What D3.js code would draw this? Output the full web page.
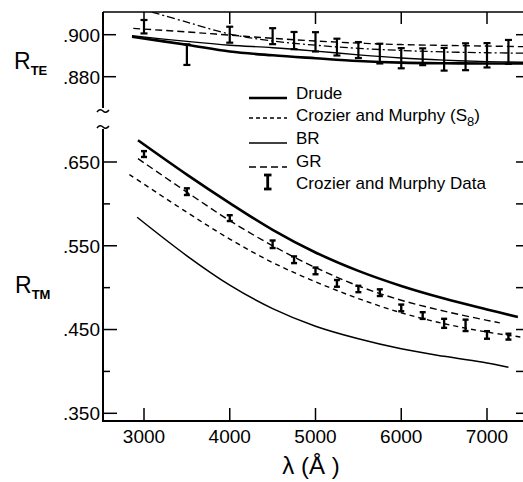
<!DOCTYPE html>
<html lang="en">
<head>
<meta charset="UTF-8">
<title>R_TE and R_TM vs wavelength</title>
<script src="https://d3js.org/d3.v7.min.js"></script>
<style>
  body { margin: 0; background: #fff; }
  svg { display: block; font-family: "Liberation Sans", Arial, sans-serif; }
  .axis { stroke: #000; fill: none; }
  .curve { fill: none; stroke: #000; }
  .bar { stroke: #000; fill: none; }
  text { fill: #000; }
</style>
</head>
<body>
<svg id="chart" width="523" height="482"></svg>
<script>
// tick values
const xTicks = [3000, 4000, 5000, 6000, 7000];
const teTicks = [0.880, 0.900];
const tmTicks = [0.350, 0.450, 0.550, 0.650];
const tmMinor = [0.400, 0.500, 0.600];

// Crozier and Murphy data: wavelength, reflectance, half error
const dataLambda = [3000, 3500, 4000, 4500, 4750, 5000, 5250, 5500, 5750, 6000, 6250, 6500, 6750, 7000, 7250];
const teData = [0.9038, 0.8905, 0.9000, 0.8993, 0.8972, 0.8966, 0.8941, 0.8927, 0.8910, 0.8888, 0.8895, 0.8883, 0.8895, 0.8902, 0.8918];
const teErr  = [0.0032, 0.0049, 0.0038, 0.0038, 0.0041, 0.0046, 0.0040, 0.0038, 0.0047, 0.0048, 0.0040, 0.0054, 0.0064, 0.0058, 0.0057];
const tmData = [0.6595, 0.6146, 0.5830, 0.5518, 0.5333, 0.5200, 0.5051, 0.4984, 0.4940, 0.4758, 0.4667, 0.4574, 0.4550, 0.4435, 0.4415];
const tmErr  = [0.0035, 0.0040, 0.0035, 0.0045, 0.0040, 0.0040, 0.0040, 0.0038, 0.0040, 0.0040, 0.0040, 0.0054, 0.0068, 0.0045, 0.0035];

// model curves [wavelength, R]
const drudeTE = [[2860,.8990],[3500,.8952],[4000,.8920],[4500,.8902],[5000,.8888],[5500,.8875],[6000,.8867],[6500,.8864],[7000,.8863],[7420,.8863]];
const brTE    = [[2860,.8995],[3500,.8968],[4000,.8950],[4500,.8938],[5000,.8922],[5500,.8904],[6000,.8889],[6500,.8879],[7000,.8872],[7420,.8869]];
const grTE    = [[2875,.9030],[3500,.9013],[4000,.8998],[4500,.8983],[5000,.8970],[5500,.8960],[6000,.8953],[6500,.8949],[7000,.8946],[7420,.8943]];
const s8TE    = [[3090,.9108],[3500,.9060],[4000,.9003],[4500,.8970],[5000,.8950],[5500,.8935],[6000,.8925],[6500,.8918],[7000,.8914],[7420,.8912]];

const drudeTM = [[2930,.676],[3500,.635],[4000,.601],[4500,.569],[5000,.542],[5500,.520],[6000,.502],[6500,.487],[7000,.474],[7360,.465]];
const grTM    = [[2930,.654],[3500,.614],[4000,.580],[4500,.550],[5000,.524],[5500,.502],[6000,.485],[6500,.472],[7000,.461],[7150,.458]];
const s8TM    = [[2830,.635],[3500,.590],[4000,.558],[4500,.530],[5000,.507],[5500,.487],[6000,.470],[6500,.457],[7000,.447],[7400,.441]];
const brTM    = [[2920,.584],[3500,.538],[4000,.503],[4500,.475],[5000,.454],[5500,.439],[6000,.427],[6500,.418],[7000,.410],[7250,.405]];

const legendItems = ["Drude", "Crozier and Murphy (S", "BR", "GR", "Crozier and Murphy Data"];

const svg = d3.select("#chart");
const plotLeft = 103, plotRight = 523, plotTop = 12, plotBottom = 421;
const breakTop = 108, breakBot = 129;

const x = d3.scaleLinear().domain([3000, 7000]).range([144, 487]);
const yTE = d3.scaleLinear().domain([0.880, 0.900]).range([76.7, 34.7]);
const yTM = d3.scaleLinear().domain([0.350, 0.650]).range([413.3, 162]);

svg.append("clipPath").attr("id", "clipTE")
   .append("rect").attr("x", plotLeft).attr("y", plotTop)
   .attr("width", plotRight - plotLeft).attr("height", breakTop - plotTop);

// frame
svg.append("line").attr("class", "axis").attr("stroke-width", 1.6)
   .attr("x1", plotLeft).attr("y1", plotTop).attr("x2", plotRight).attr("y2", plotTop);
svg.append("line").attr("class", "axis").attr("stroke-width", 2)
   .attr("x1", plotLeft).attr("y1", plotTop).attr("x2", plotLeft).attr("y2", breakTop);
svg.append("line").attr("class", "axis").attr("stroke-width", 2)
   .attr("x1", plotLeft).attr("y1", breakBot).attr("x2", plotLeft).attr("y2", plotBottom);
svg.append("line").attr("class", "axis").attr("stroke-width", 2)
   .attr("x1", plotLeft - 1).attr("y1", plotBottom).attr("x2", plotRight).attr("y2", plotBottom);

// break marks
[111, 127].forEach(yb => {
  svg.append("path").attr("class", "axis").attr("stroke-width", 1.5)
     .attr("d", `M${plotLeft - 6},${yb + 1} q3,-4 6,-1 t6,-1`);
});

// x ticks (bottom and top)
svg.selectAll(".xtick").data(xTicks).enter().append("line")
   .attr("class", "axis").attr("stroke-width", 1.5)
   .attr("x1", d => x(d)).attr("x2", d => x(d)).attr("y1", plotBottom).attr("y2", plotBottom - 13);
svg.selectAll(".xtickTop").data(xTicks).enter().append("line")
   .attr("class", "axis").attr("stroke-width", 1.5)
   .attr("x1", d => x(d)).attr("x2", d => x(d)).attr("y1", plotTop).attr("y2", plotTop + 12);
svg.selectAll(".xlab").data(xTicks).enter().append("text")
   .attr("x", d => x(d)).attr("y", 443).attr("text-anchor", "middle")
   .attr("font-size", 19).text(d => d);

// y ticks
function yTicks(vals, scale, len, label) {
  vals.forEach(v => {
    svg.append("line").attr("class", "axis").attr("stroke-width", 1.5)
       .attr("x1", plotLeft).attr("x2", plotLeft + len).attr("y1", scale(v)).attr("y2", scale(v));
    svg.append("line").attr("class", "axis").attr("stroke-width", 1.5)
       .attr("x1", plotRight).attr("x2", plotRight - 7).attr("y1", scale(v)).attr("y2", scale(v));
    if (label) {
      svg.append("text").attr("x", 100).attr("y", scale(v)).attr("dy", "0.36em")
         .attr("text-anchor", "end").attr("font-size", 19)
         .text(d3.format(".3f")(v).replace(/^0/, ""));
    }
  });
}
yTicks(teTicks, yTE, 13, true);
yTicks(tmTicks, yTM, 14, true);
yTicks(tmMinor, yTM, 7, false);

// axis titles
function rLabel(xp, yp, sub) {
  const t = svg.append("text").attr("x", xp).attr("y", yp).attr("font-size", 23);
  t.append("tspan").text("R");
  t.append("tspan").attr("font-size", 13).attr("font-weight", "bold").attr("dy", 6).text(sub);
}
rLabel(14, 69, "TE");
rLabel(15, 293, "TM");

svg.append("text").attr("x", 311).attr("y", 474).attr("text-anchor", "middle")
   .attr("font-size", 24).text("λ (Å )");

// curves
const lineTE = d3.line().x(d => x(d[0])).y(d => yTE(d[1])).curve(d3.curveCatmullRom);
const lineTM = d3.line().x(d => x(d[0])).y(d => yTM(d[1])).curve(d3.curveCatmullRom);

const teG = svg.append("g").attr("clip-path", "url(#clipTE)");
teG.append("path").attr("class", "curve").attr("stroke-width", 2.6).attr("d", lineTE(drudeTE));
teG.append("path").attr("class", "curve").attr("stroke-width", 1.4).attr("d", lineTE(brTE));
teG.append("path").attr("class", "curve").attr("stroke-width", 1.4).attr("stroke-dasharray", "7,4").attr("d", lineTE(grTE));
teG.append("path").attr("class", "curve").attr("stroke-width", 1.3).attr("stroke-dasharray", "8,3,2,3").attr("d", lineTE(s8TE));

svg.append("path").attr("class", "curve").attr("stroke-width", 2.6).attr("d", lineTM(drudeTM));
svg.append("path").attr("class", "curve").attr("stroke-width", 1.4).attr("stroke-dasharray", "7,4").attr("d", lineTM(grTM));
svg.append("path").attr("class", "curve").attr("stroke-width", 1.4).attr("stroke-dasharray", "5,4").attr("d", lineTM(s8TM));
svg.append("path").attr("class", "curve").attr("stroke-width", 1.5).attr("d", lineTM(brTM));

// error bars
function errorBars(vals, errs, scale, cap, sw) {
  dataLambda.forEach((l, i) => {
    const cx = x(l), y1 = scale(vals[i] - errs[i]), y2 = scale(vals[i] + errs[i]);
    const g = svg.append("g").attr("class", "bar").attr("stroke-width", sw);
    g.append("line").attr("x1", cx).attr("x2", cx).attr("y1", y1).attr("y2", y2);
    g.append("line").attr("x1", cx - cap).attr("x2", cx + cap).attr("y1", y1).attr("y2", y1);
    g.append("line").attr("x1", cx - cap).attr("x2", cx + cap).attr("y1", y2).attr("y2", y2);
  });
}
errorBars(teData, teErr, yTE, 3.5, 2.2);
errorBars(tmData, tmErr, yTM, 3, 2.4);

// legend
const legY = [99, 121, 144, 167, 189];
const lx1 = 249, lx2 = 287, tx = 296;
svg.append("line").attr("class", "curve").attr("stroke-width", 2.6)
   .attr("x1", lx1).attr("x2", lx2).attr("y1", legY[0] - 1).attr("y2", legY[0] - 1);
svg.append("line").attr("class", "curve").attr("stroke-width", 1.3).attr("stroke-dasharray", "4,3")
   .attr("x1", lx1).attr("x2", lx2).attr("y1", legY[1] - 3).attr("y2", legY[1] - 3);
svg.append("line").attr("class", "curve").attr("stroke-width", 1.4)
   .attr("x1", lx1).attr("x2", lx2).attr("y1", legY[2] - 1).attr("y2", legY[2] - 1);
svg.append("line").attr("class", "curve").attr("stroke-width", 1.4).attr("stroke-dasharray", "7,4")
   .attr("x1", lx1).attr("x2", lx2).attr("y1", legY[3]).attr("y2", legY[3]);
const ig = svg.append("g").attr("class", "bar").attr("stroke-width", 2.8);
ig.append("line").attr("x1", 267.7).attr("x2", 267.7).attr("y1", 175).attr("y2", 189);
ig.append("line").attr("x1", 264).attr("x2", 271.5).attr("y1", 175).attr("y2", 175);
ig.append("line").attr("x1", 264).attr("x2", 271.5).attr("y1", 189).attr("y2", 189);

legendItems.forEach((name, i) => {
  const t = svg.append("text").attr("x", tx).attr("y", legY[i]).attr("font-size", 17).text(name);
  if (i === 1) {
    t.append("tspan").attr("font-size", 13).attr("dy", 5).text("8");
    t.append("tspan").attr("dy", -5).text(")");
  }
});
</script>
</body>
</html>
